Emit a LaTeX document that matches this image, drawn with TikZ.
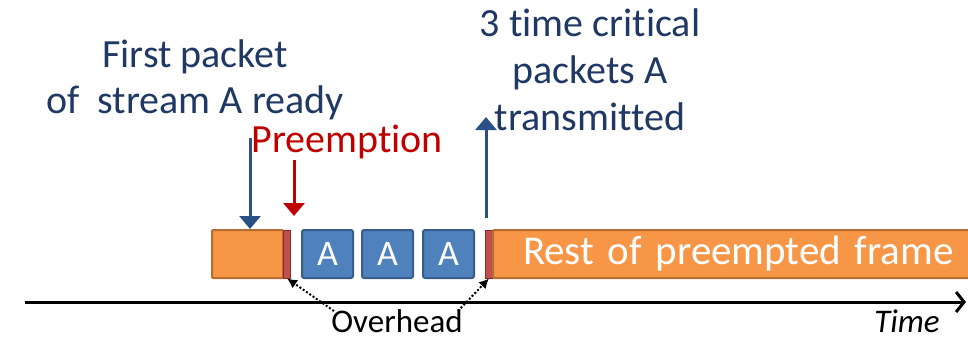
\documentclass[tikz,border=0pt]{standalone}
\usepackage{fontspec}
\setmainfont{Carlito}[Ligatures=NoCommon]
\usetikzlibrary{arrows.meta}
\definecolor{navy}{HTML}{1F3864}
\definecolor{arrblue}{HTML}{2A5185}
\definecolor{pred}{HTML}{C00000}
\definecolor{orfill}{HTML}{F79646}
\definecolor{ordraw}{HTML}{B66D31}
\definecolor{bfill}{HTML}{4F81BD}
\definecolor{bdraw}{HTML}{385D8A}
\definecolor{barred}{HTML}{C0504D}
\definecolor{bardraw}{HTML}{8C2A28}
\tikzset{
  orbox/.style={fill=orfill, draw=ordraw, line width=2pt, rounded corners=1pt},
  abox/.style={fill=bfill, draw=bdraw, line width=2pt, rounded corners=2pt, text=white, font=\fontsize{36}{38}\selectfont},
  redbar/.style={fill=barred, draw=bardraw, line width=0.8pt},
  lbl/.style={align=center, inner sep=0pt, font=\fontsize{40}{46}\selectfont},
  bigarrow/.style={line width=3pt, -{Triangle[length=13pt,width=21pt]}},
  ovarrow/.style={line width=2pt, dotted, -{Latex[length=10pt,width=10pt]}}
}
\begin{document}
\begin{tikzpicture}[x=1pt,y=-1pt]
\useasboundingbox (0,0) rectangle (968,341);
% packets
\node[orbox, minimum width=71pt, minimum height=48pt, inner sep=0pt] (o1) at (247.5,254) {};
\node[redbar, minimum width=7pt, minimum height=48pt, inner sep=0pt] (r1) at (287,254) {};
\node[abox, minimum width=51pt, minimum height=48pt, inner sep=0pt] (a1) at (327.5,254) {A};
\node[abox, minimum width=51pt, minimum height=48pt, inner sep=0pt] (a2) at (387.5,254) {A};
\node[abox, minimum width=51pt, minimum height=48pt, inner sep=0pt] (a3) at (448.5,254) {A};
\node[redbar, minimum width=7pt, minimum height=48pt, inner sep=0pt] (r2) at (489,254) {};
\node[orbox, minimum width=480pt, minimum height=48pt, inner sep=0pt, text=white, font=\fontsize{41}{43}\selectfont, text width=480pt, align=left] (o2) at (733,254) {\hspace*{30pt}Rest of preempted frame};
% axis
\coordinate (ax0) at (25,302);
\coordinate (ax1) at (966,302);
\draw[line width=3pt, -{Straight Barb[length=8pt,width=20pt]}] (ax0) -- (ax1);
% labels
\node[lbl, text=navy] (first) at (195,80) {First packet\\of\ \ stream A ready};
\node[lbl, text=pred] (pre) at (347,142) {Preemption};
\node[lbl, text=navy, font=\fontsize{40}{47}\selectfont] (crit) at (590,70) {3 time critical\\packets A\\transmitted};
\node[inner sep=0pt, anchor=base, font=\fontsize{33}{35}\selectfont] (over) at (397,332) {Overhead};
\node[inner sep=0pt, anchor=base, font=\fontsize{33}{35}\selectfont\itshape] (time) at (907,332) {Time};
% arrows
\coordinate (f0) at (250,138);
\draw[bigarrow, draw=arrblue, arrblue] (f0) -- (o1.north -| f0);
\coordinate (p0) at (294,160);
\coordinate (p1) at (294,216);
\draw[bigarrow, draw=pred, pred] (p0) -- (p1);
\coordinate (t0) at (486,218);
\coordinate (t1) at (486,117);
\draw[bigarrow, draw=arrblue, arrblue] (t0) -- (t1);
\coordinate (ov1) at (334,311);
\coordinate (ov2) at (458,311);
\draw[ovarrow] (ov1) -- (r1.south);
\draw[ovarrow] (ov2) -- (r2.south);
\end{tikzpicture}
\end{document}
